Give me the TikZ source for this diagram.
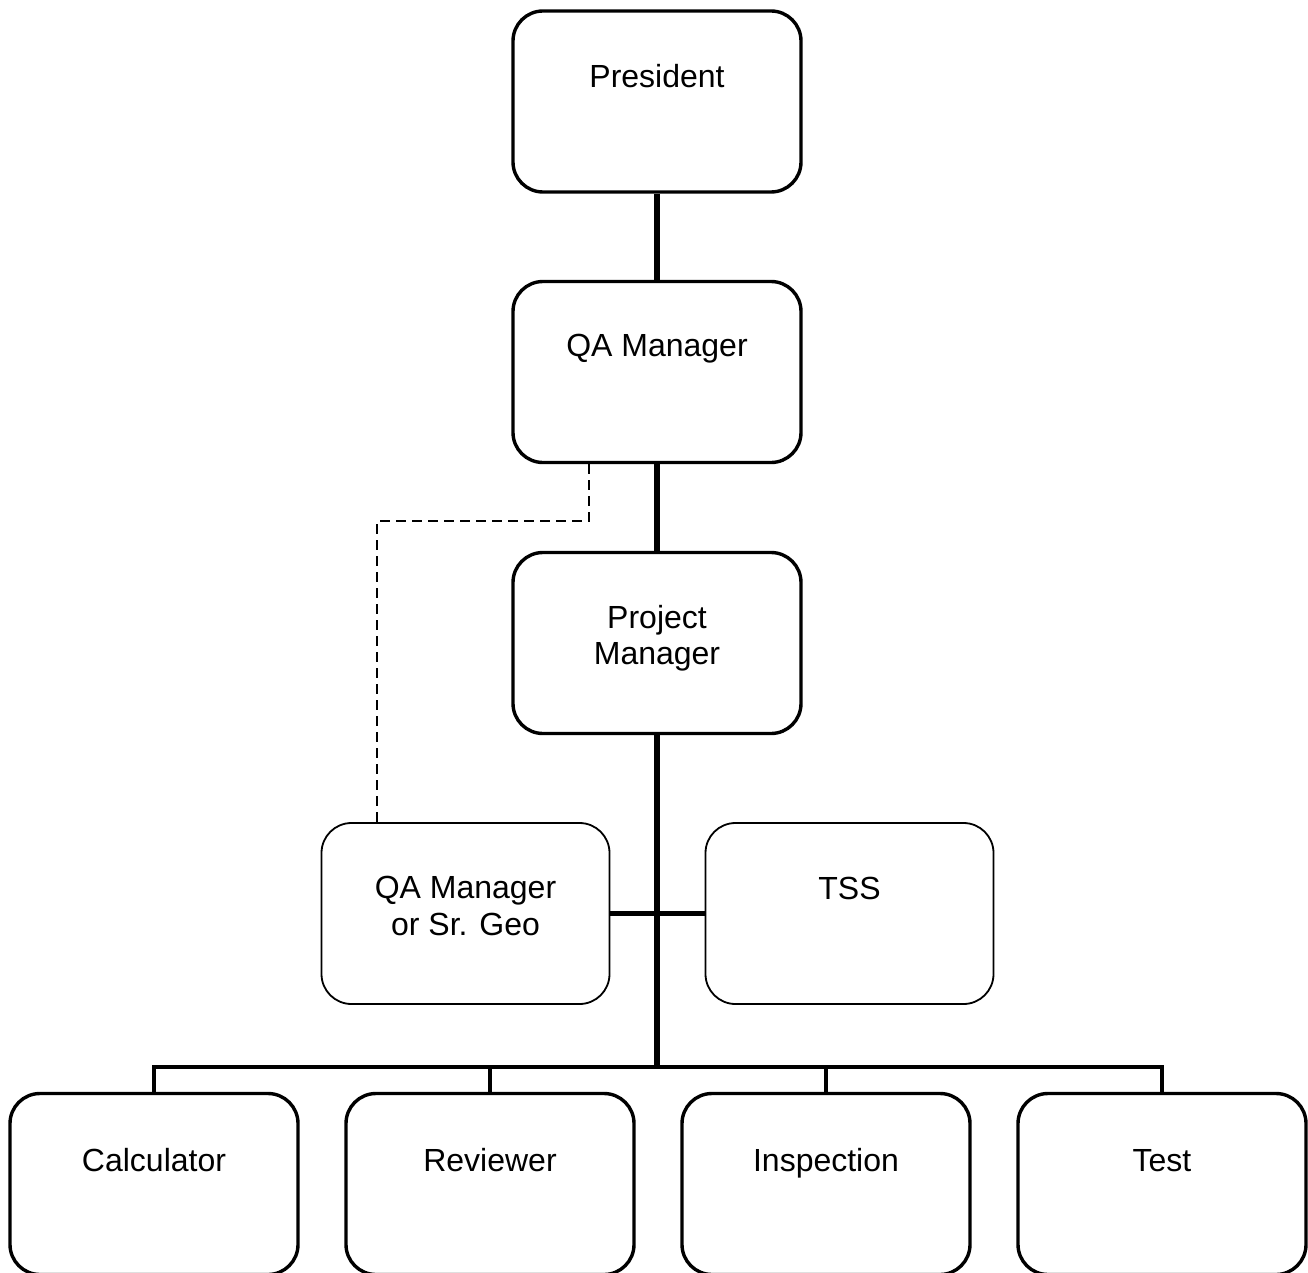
\documentclass[tikz,border=0pt]{standalone}
\usepackage{fontspec}
\setmainfont{Liberation Sans}
\begin{document}
\begin{tikzpicture}[x=1pt,y=-1pt,
  boxbase/.style={rectangle,rounded corners=30pt,minimum width=288pt,minimum height=181pt,inner sep=0pt},
  thickbox/.style={boxbase,draw,line width=3.4pt},
  thinbox/.style={boxbase,draw,line width=1.8pt},
  lbl/.style={anchor=base,align=center,inner sep=0pt,font=\fontsize{32}{36.5}\selectfont},
  trunk/.style={line width=5.5pt},
  branch/.style={line width=4.5pt},
  dotted link/.style={line width=1.8pt,dash pattern=on 10pt off 6pt}]
\useasboundingbox (0,0) rectangle (1308,1273);

% top chain
\node[thickbox] (pres) at (657,101.5) {};
\node[thickbox] (qam)  at (657,372) {};
\node[thickbox] (pm)   at (657,643) {};
% staff positions
\node[thinbox] (geo) at (465.5,913.5) {};
\node[thinbox] (tss) at (849.5,913.5) {};
% bottom row
\node[thickbox] (calc) at (154,1184) {};
\node[thickbox] (rev)  at (490,1184) {};
\node[thickbox] (insp) at (826,1184) {};
\node[thickbox] (test) at (1162,1184) {};

% labels (base anchor = last line's baseline, measured from the box top)
\node[lbl] (tpres) at ([yshift=-78pt]pres.north) {President};
\node[lbl] (tqam)  at ([yshift=-77pt]qam.north) {QA Manager};
\node[lbl] (tpm)   at ([yshift=-114pt]pm.north) {Project\\Manager};
\node[lbl] (tgeo)  at ([yshift=-113pt]geo.north) {QA Manager\\or Sr. Geo};
\node[lbl] (ttss)  at ([yshift=-77pt]tss.north) {TSS};
\node[lbl] (tcalc) at ([yshift=-80pt]calc.north) {Calculator};
\node[lbl] (trev)  at ([yshift=-80pt]rev.north) {Reviewer};
\node[lbl] (tinsp) at ([yshift=-80pt]insp.north) {Inspection};
\node[lbl] (ttest) at ([yshift=-80pt]test.north) {Test};

% reporting lines
\coordinate (bus) at (657,1067);
\draw[trunk] (pres.south) -- (qam.north);
\draw[trunk] (qam.south) -- (pm.north);
\draw[trunk] (pm.south) -- (bus);
\draw[branch] (geo.east) -- (tss.west);
\draw[branch] (calc.north) -- (calc.north |- bus) -- (test.north |- bus) -- (test.north);
\draw[branch] (rev.north) -- (rev.north |- bus);
\draw[branch] (insp.north) -- (insp.north |- bus);

% dotted-line reporting
\coordinate (d1) at (589,521);
\draw[dotted link] (qam.south -| d1) -- (d1) -- (d1 -| 377,0) -- (geo.north -| 377,0);
\end{tikzpicture}
\end{document}
